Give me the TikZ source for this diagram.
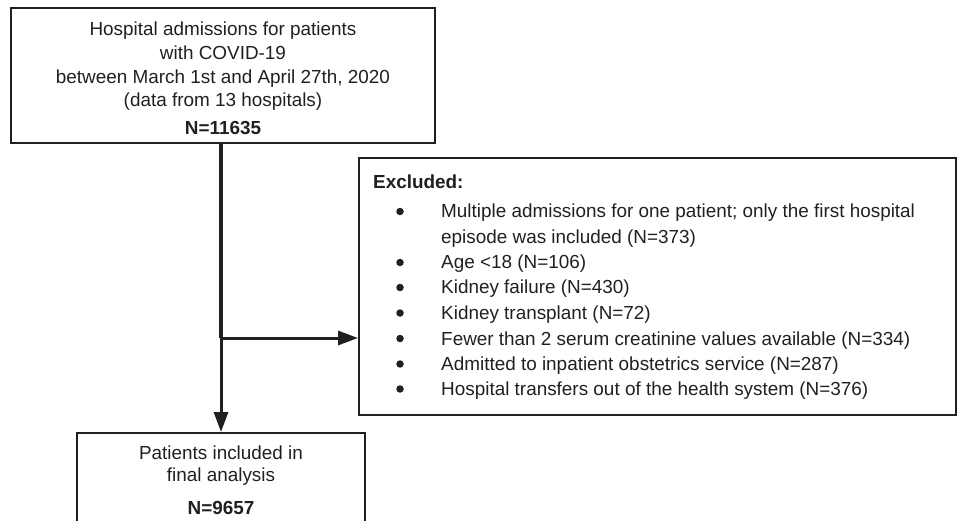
\documentclass[tikz,border=0pt]{standalone}
\usepackage{fontspec}
\setmainfont{Liberation Sans}
\usetikzlibrary{arrows.meta}
\definecolor{ink}{RGB}{35,31,32}
\begin{document}
\begin{tikzpicture}[x=1pt,y=-1pt,
  box/.style={draw=ink,line width=2pt,inner sep=0pt},
  txt/.style={inner sep=0pt,text=ink,font=\fontsize{18.9}{24}\selectfont},
  ctr/.style={txt,anchor=base},
  lft/.style={txt,anchor=base west},
  bul/.style={circle,fill=ink,inner sep=0pt,minimum size=7.5pt},
  conn/.style={draw=ink,line width=3pt},
  tip/.style={-{Triangle[length=20pt,width=14pt]}}]
\useasboundingbox (0,0) rectangle (958,521);
% boxes
\node[box,minimum width=424pt,minimum height=135pt] (top) at (223,75.5) {};
\node[box,minimum width=597pt,minimum height=257pt] (excl) at (657.5,286.5) {};
\node[box,minimum width=288pt,minimum height=96pt] (final) at (221,481) {};
% top box text
\node[ctr] (t1) at (223,35.5) {Hospital admissions for patients};
\node[ctr] (t2) at (223,59.5) {with COVID-19};
\node[ctr] (t3) at (223,83.5) {between March 1st and April 27th, 2020};
\node[ctr] (t4) at (223,106.5) {(data from 13 hospitals)};
\node[ctr,font=\fontsize{18.9}{24}\selectfont\bfseries] (t5) at (223,134.5) {N=11635};
% excluded text
\node[lft,font=\fontsize{18.9}{24}\selectfont\bfseries] (e0) at (373,188.5) {Excluded:};
\node[lft] (e1) at (441,218) {Multiple admissions for one patient; only the first hospital};
\node[lft] (e1b) at (441,243.5) {episode was included (N=373)};
\node[lft] (e2) at (441,269) {Age <18 (N=106)};
\node[lft] (e3) at (441,294) {Kidney failure (N=430)};
\node[lft] (e4) at (441,319.5) {Kidney transplant (N=72)};
\node[lft] (e5) at (441,345) {Fewer than 2 serum creatinine values available (N=334)};
\node[lft] (e6) at (441,370.5) {Admitted to inpatient obstetrics service (N=287)};
\node[lft] (e7) at (441,395.5) {Hospital transfers out of the health system (N=376)};
\foreach \n/\y in {b1/211.5,b2/262.5,b3/287.5,b4/313,b5/338.5,b6/364,b7/389}
  \node[bul] (\n) at (400,\y) {};
% final box text
\node[ctr] (f1) at (221,459.5) {Patients included in};
\node[ctr] (f2) at (221,481.5) {final analysis};
\node[ctr,font=\fontsize{18.9}{24}\selectfont\bfseries] (f3) at (221,514.5) {N=9657};
% connectors
\coordinate (j) at (221,338);
\draw[conn,line width=4pt] (top.south -| j) -- (j);
\draw[conn,tip] (j) -- (j |- final.north);
\draw[conn,tip] (j) -- (j -| excl.west);
\end{tikzpicture}
\end{document}
